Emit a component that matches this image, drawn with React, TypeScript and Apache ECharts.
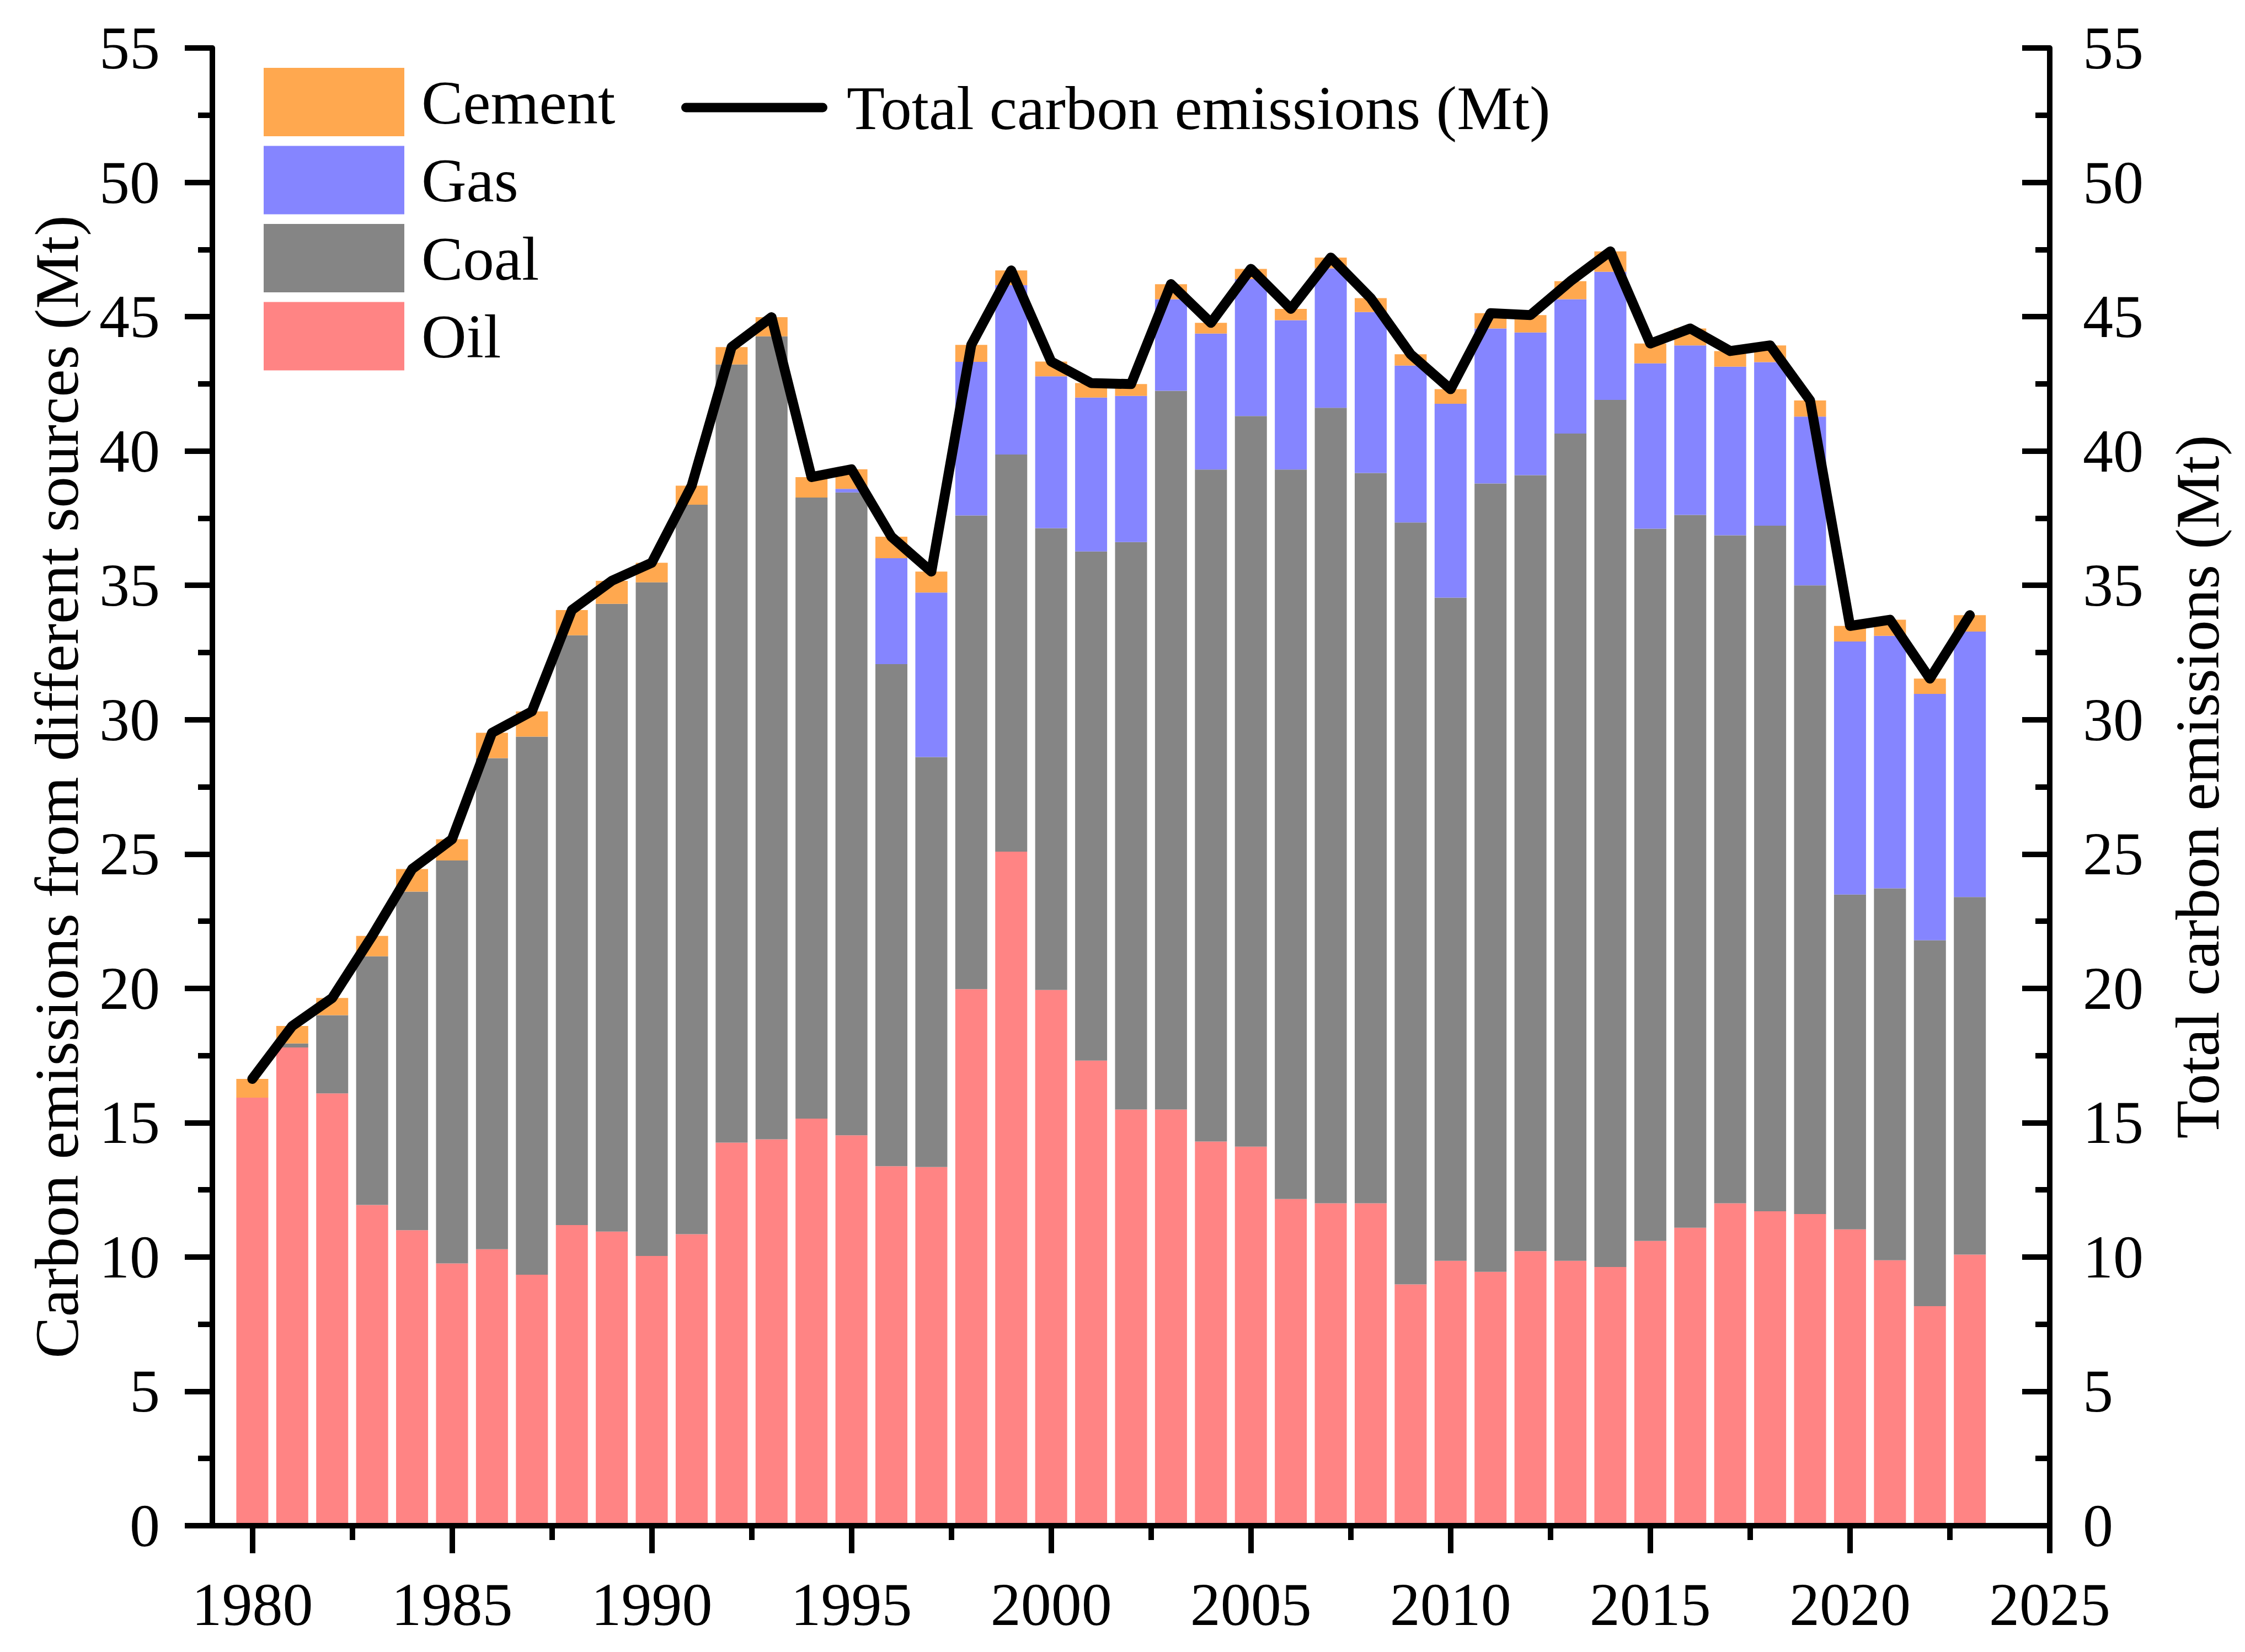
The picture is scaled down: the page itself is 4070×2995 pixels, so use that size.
import React, { useEffect, useRef } from "react";
import * as echarts from "echarts";

// Category positions of the x axis (the axis runs from 1979 to 2025)
const axisYears = [
  1979, 1980, 1981, 1982, 1983, 1984, 1985, 1986, 1987, 1988, 1989,
  1990, 1991, 1992, 1993, 1994, 1995, 1996, 1997, 1998, 1999,
  2000, 2001, 2002, 2003, 2004, 2005, 2006, 2007, 2008, 2009,
  2010, 2011, 2012, 2013, 2014, 2015, 2016, 2017, 2018, 2019,
  2020, 2021, 2022, 2023, 2024, 2025,
];

const years = [
  1980, 1981, 1982, 1983, 1984, 1985, 1986, 1987, 1988, 1989,
  1990, 1991, 1992, 1993, 1994, 1995, 1996, 1997, 1998, 1999,
  2000, 2001, 2002, 2003, 2004, 2005, 2006, 2007, 2008, 2009,
  2010, 2011, 2012, 2013, 2014, 2015, 2016, 2017, 2018, 2019,
  2020, 2021, 2022, 2023,
];

const oil = [
  15.93, 17.8, 16.09, 11.94, 11.0, 9.76, 10.29, 9.34, 11.19, 10.95,
  10.04, 10.85, 14.26, 14.38, 15.15, 14.53, 13.38, 13.35, 19.97, 25.09,
  19.94, 17.31, 15.49, 15.49, 14.3, 14.11, 12.16, 12.0, 12.0, 8.98,
  9.86, 9.45, 10.22, 9.86, 9.63, 10.6, 11.09, 12.0, 11.7, 11.6,
  11.03, 9.88, 8.17, 10.09,
];

const coal = [
  0, 0.15, 2.91, 9.25, 12.6, 15.0, 18.28, 20.03, 21.95, 23.36,
  25.07, 27.15, 28.96, 29.89, 23.12, 23.93, 18.69, 15.26, 17.63, 14.78,
  17.19, 18.95, 21.12, 26.75, 25.01, 27.19, 27.15, 29.61, 27.18, 28.36,
  24.68, 29.34, 28.88, 30.79, 32.27, 26.51, 26.53, 24.86, 25.52, 23.4,
  12.46, 13.84, 13.62, 13.31,
];

const gas = [
  0, 0, 0, 0, 0, 0, 0, 0, 0, 0,
  0, 0, 0, 0, 0, 0.13, 3.94, 6.12, 5.72, 6.3,
  5.65, 5.73, 5.44, 3.41, 5.06, 5.1, 5.56, 5.19, 5.99, 5.84,
  7.22, 5.77, 5.31, 5.0, 4.77, 6.15, 6.31, 6.28, 6.09, 6.28,
  9.42, 9.4, 9.17, 9.88,
];

const cement = [
  0.7, 0.65, 0.64, 0.76, 0.84, 0.79, 0.94, 0.94, 0.94, 0.86,
  0.73, 0.71, 0.65, 0.71, 0.76, 0.73, 0.8, 0.78, 0.63, 0.55,
  0.55, 0.54, 0.44, 0.56, 0.4, 0.38, 0.42, 0.4, 0.52, 0.42,
  0.54, 0.57, 0.65, 0.67, 0.76, 0.74, 0.63, 0.58, 0.62, 0.6,
  0.58, 0.6, 0.57, 0.61,
];

const total = [
  16.63, 18.6, 19.64, 21.95, 24.44, 25.55, 29.51, 30.31, 34.08, 35.17,
  35.84, 38.71, 43.87, 44.98, 39.03, 39.32, 36.81, 35.51, 43.95, 46.72,
  43.33, 42.53, 42.49, 46.21, 44.77, 46.78, 45.29, 47.2, 45.69, 43.6,
  42.3, 45.13, 45.06, 46.32, 47.43, 44.0, 44.56, 43.72, 43.93, 41.88,
  33.49, 33.72, 31.53, 33.89,
];

const xTickLabels = [1980, 1985, 1990, 1995, 2000, 2005, 2010, 2015, 2020, 2025];
const xMinorTickValues = [1982.5, 1987.5, 1992.5, 1997.5, 2002.5, 2007.5, 2012.5, 2017.5, 2022.5];

const seriesNames = ["Oil", "Coal", "Gas", "Cement"];
const legendBarNames = ["Cement", "Gas", "Coal", "Oil"];
const totalName = "Total carbon emissions (Mt)";
const leftAxisName = "Carbon emissions from different sources (Mt)";
const rightAxisName = "Total carbon emissions (Mt)";

const FONT = "'Liberation Serif', 'Times New Roman', serif";
const FS = 110;
const FS_TEXT = 113;
const BLACK = "#000000";
const colors: Record<string, string> = {
  Oil: "#FF8484",
  Coal: "#858585",
  Gas: "#8585FF",
  Cement: "#FFA84F",
};

const pair = (arr: number[]) => years.map((y, i) => [String(y), arr[i]]);

export default function App() {
  const ref = useRef<HTMLDivElement>(null);

  useEffect(() => {
    document.body.style.margin = "0";
    const chart = echarts.init(ref.current!, null, { renderer: "svg" });

    const axisLineStyle = { color: BLACK, width: 10 };
    const labelStyle = { fontFamily: FONT, fontSize: FS, color: BLACK };
    const textStyle = { fontFamily: FONT, fontSize: FS_TEXT, color: BLACK };
    const labelled = new Set(xTickLabels.map(String));
    const showMajor = (index: number, value: string) => labelled.has(String(value));

    const values: Record<string, number[]> = { Oil: oil, Coal: coal, Gas: gas, Cement: cement };

    const barSeries = seriesNames.map((n) => ({
      name: n,
      type: "bar",
      stack: "sources",
      xAxisIndex: 0,
      yAxisIndex: 0,
      barWidth: 58,
      data: pair(values[n]),
      itemStyle: { color: colors[n] },
      z: 2,
    }));

    const option: any = {
      animation: false,
      backgroundColor: "#ffffff",
      grid: {
        left: 385,
        right: 354,
        top: 87,
        bottom: 229,
        containLabel: false,
        outerBoundsMode: "none",
      },
      legend: [
        {
          orient: "vertical",
          left: 473,
          top: 118,
          itemWidth: 255,
          itemHeight: 124,
          itemGap: 17.5,
          icon: "rect",
          selectedMode: false,
          data: legendBarNames,
          textStyle: { ...textStyle, lineHeight: 124, padding: [0, 0, 0, 26] },
        },
        {
          orient: "horizontal",
          left: 1230,
          top: 128,
          itemWidth: 265,
          itemHeight: 17,
          selectedMode: false,
          data: [
            {
              name: totalName,
              icon: "path://M8.5,0L256.5,0A8.5,8.5,0,0,1,256.5,17L8.5,17A8.5,8.5,0,0,1,8.5,0Z",
              itemStyle: { color: BLACK },
            },
          ],
          textStyle: { ...textStyle, lineHeight: 124, padding: [0, 0, 0, 30] },
        },
      ],
      xAxis: [
        {
          type: "category",
          data: axisYears.map(String),
          boundaryGap: false,
          position: "bottom",
          z: 10,
          axisLine: { show: true, onZero: false, lineStyle: axisLineStyle },
          axisTick: { show: true, interval: showMajor, length: 50, lineStyle: axisLineStyle },
          axisLabel: { ...labelStyle, interval: showMajor, margin: 88 },
          splitLine: { show: false },
        },
        {
          type: "value",
          min: 1979,
          max: 2025,
          position: "bottom",
          z: 10,
          axisLine: { show: false },
          axisTick: { show: true, customValues: xMinorTickValues, length: 26, lineStyle: axisLineStyle },
          axisLabel: { show: false },
          splitLine: { show: false },
        },
      ],
      yAxis: [
        {
          type: "value",
          min: 0,
          max: 55,
          interval: 5,
          position: "left",
          z: 10,
          name: leftAxisName,
          nameLocation: "middle",
          nameRotate: 90,
          nameGap: 226,
          nameTextStyle: textStyle,
          axisLine: { show: true, lineStyle: axisLineStyle },
          axisTick: { show: true, length: 50, lineStyle: axisLineStyle },
          minorTick: { show: true, splitNumber: 2, length: 26, lineStyle: axisLineStyle },
          axisLabel: { ...labelStyle, margin: 95 },
          splitLine: { show: false },
          minorSplitLine: { show: false },
        },
        {
          type: "value",
          min: 0,
          max: 55,
          interval: 5,
          position: "right",
          z: 10,
          name: rightAxisName,
          nameLocation: "middle",
          nameRotate: 90,
          nameGap: 211,
          nameTextStyle: textStyle,
          axisLine: { show: true, lineStyle: axisLineStyle },
          axisTick: { show: true, inside: true, length: 50, lineStyle: axisLineStyle },
          minorTick: { show: true, splitNumber: 2, length: 26, lineStyle: axisLineStyle },
          axisLabel: { ...labelStyle, margin: 60 },
          splitLine: { show: false },
          minorSplitLine: { show: false },
        },
      ],
      series: [
        ...barSeries,
        {
          name: totalName,
          type: "line",
          xAxisIndex: 0,
          yAxisIndex: 1,
          data: pair(total),
          symbol: "none",
          lineStyle: { color: BLACK, width: 18, cap: "round", join: "round" },
          itemStyle: { color: BLACK },
          z: 5,
        },
      ],
    };

    chart.setOption(option);
    return () => chart.dispose();
  }, []);

  return <div ref={ref} style={{ width: 4070, height: 2995, background: "#ffffff" }} />;
}
